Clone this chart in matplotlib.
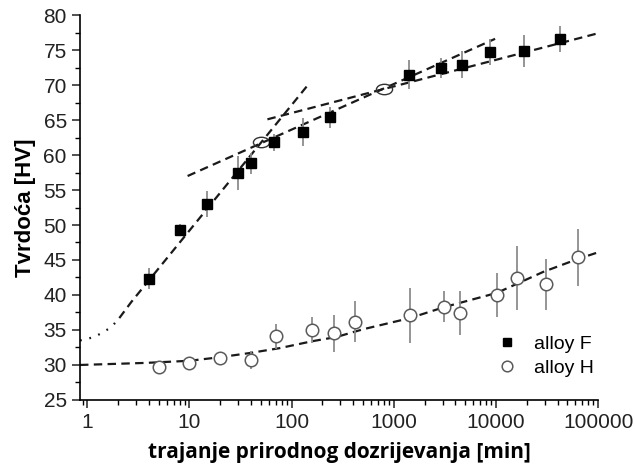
import matplotlib
matplotlib.use("Agg")
import matplotlib.pyplot as plt
from matplotlib.markers import MarkerStyle
from matplotlib.transforms import Affine2D

# alloy F (kvadrati)
f_x = [4, 8, 15, 30, 40, 68, 128, 240, 1400, 2900, 4700, 8700, 19000, 42000]
f_y = [42.3, 49.3, 53.0, 57.4, 58.8, 61.8, 63.3, 65.4, 71.5, 72.4, 72.9, 74.7, 74.9, 76.6]
f_err = [1.5, 0.8, 1.9, 2.4, 1.5, 1.2, 2.0, 1.5, 2.1, 1.4, 1.9, 1.9, 2.3, 1.9]

# alloy H (kruzici)
h_x = [5, 10, 20, 40, 70, 160, 260, 415, 1440, 3100, 4450, 10200, 16000, 31000, 63000]
h_y = [29.7, 30.3, 31.0, 30.7, 34.1, 35.0, 34.5, 36.2, 37.1, 38.3, 37.4, 40.0, 42.4, 41.5, 45.4]
h_err = [0.6, 0.8, 0.8, 1.3, 1.8, 1.9, 2.7, 2.9, 3.9, 2.2, 3.1, 3.1, 4.6, 3.6, 4.1]

# fit krivulje ocitane sa slike
fitf_dot_x = [0.85, 0.98, 1.17, 1.4, 1.72, 2.06]
fitf_dot_y = [33.5, 33.7, 34.0, 34.6, 35.4, 36.7]
fitf_x = [2.06, 2.7, 150]
fitf_y = [36.7, 39.0, 70.3]
tan1_x = [9.6, 9800]
tan1_y = [57.0, 76.6]
tan2_x = [58, 100000]
tan2_y = [65.1, 77.4]
presjek_x = [50, 800]
presjek_y = [61.8, 69.5]

fith_x = [0.85, 3.8, 10, 19.7, 38.7, 76, 160, 275, 500, 1440, 3170, 10200, 29000, 62000, 100000]
fith_y = [30.0, 30.3, 30.6, 31.1, 31.7, 32.4, 33.4, 34.0, 35.1, 36.7, 38.3, 40.3, 43.3, 45.1, 46.1]

plt.rcParams['font.family'] = ['Liberation Sans', 'DejaVu Sans']

fig = plt.figure(figsize=(6.35, 4.7), dpi=100)
ax = fig.add_axes([0.126, 0.149, 0.816, 0.819])

crta = dict(color='#1a1a1a', lw=1.6)
ax.plot(fitf_dot_x, fitf_dot_y, linestyle=(0, (0.8, 3.5)), **crta)
ax.plot(fitf_x, fitf_y, dashes=(3.8, 2.4), **crta)
ax.plot(tan1_x, tan1_y, dashes=(3.8, 2.4), **crta)
ax.plot(tan2_x, tan2_y, dashes=(3.8, 2.4), **crta)
ax.plot(fith_x, fith_y, dashes=(3.8, 2.4), **crta)

elipsa = MarkerStyle('o', transform=Affine2D().scale(1.55, 1.0))
ax.plot(presjek_x, presjek_y, linestyle='none', marker=elipsa, markersize=7.5,
        markerfacecolor='none', markeredgecolor='#333333', markeredgewidth=1.0)

ax.errorbar(f_x, f_y, yerr=f_err, fmt='none', ecolor='#8c8c8c', elinewidth=1.3, capsize=0)
ax.errorbar(h_x, h_y, yerr=h_err, fmt='none', ecolor='#8c8c8c', elinewidth=1.3, capsize=0)
ax.plot(f_x, f_y, 's', color='black', markersize=7.5, label='alloy F')
ax.plot(h_x, h_y, 'o', markerfacecolor='white', markeredgecolor='#5a5a5a',
        markeredgewidth=1.1, markersize=9, label='alloy H')

ax.set_xscale('log')
ax.set_xlim(0.85, 100000)
ax.set_ylim(25, 80)
ax.set_yticks(range(25, 81, 5))
ax.set_yticks([v + 2.5 for v in range(25, 80, 5)], minor=True)
ax.set_xticks([1, 10, 100, 1000, 10000, 100000])
ax.set_xticklabels(['1', '10', '100', '1000', '10000', '100000'])

ax.spines['top'].set_visible(False)
ax.spines['right'].set_visible(False)
ax.spines['left'].set_linewidth(1.2)
ax.spines['bottom'].set_linewidth(1.2)
ax.tick_params(which='major', direction='out', length=6, width=1.1, labelsize=15, colors='#222222')
ax.tick_params(which='minor', direction='out', length=3.5, width=1.0)

ax.set_ylabel('Tvrdoća [HV]', fontsize=16, fontweight='bold', labelpad=5)
ax.set_xlabel('trajanje prirodnog dozrijevanja [min]', fontsize=15, fontweight='bold',
              family=['Open Sans', 'DejaVu Sans'], labelpad=7)

ax.legend(loc='lower right', bbox_to_anchor=(1.025, 0.015), frameon=False, fontsize=14,
          handletextpad=0.6, labelspacing=0.3, handlelength=1.5, markerscale=0.85)

fig.savefig('out.png', dpi=100)
